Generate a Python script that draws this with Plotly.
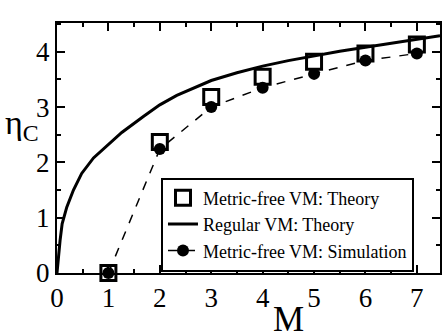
import plotly.graph_objects as go

M = [1, 2, 3, 4, 5, 6, 7]
eta_theory_mf = [0, 2.37, 3.18, 3.55, 3.82, 3.97, 4.13]
eta_sim_mf = [0, 2.24, 3.0, 3.35, 3.6, 3.84, 3.97]

# regular VM theory curve (read point by point)
M_reg = [0, 0.025, 0.06, 0.1, 0.19, 0.32, 0.48, 0.71, 1.0, 1.26, 1.68, 2.0, 2.33, 2.78,
         3.0, 3.5, 4.0, 4.5, 5.0, 5.5, 6.0, 6.5, 7.0, 7.45]
eta_reg = [0, 0.29, 0.59, 0.89, 1.19, 1.50, 1.80, 2.08, 2.33, 2.54, 2.83, 3.04, 3.21, 3.39,
           3.48, 3.62, 3.74, 3.84, 3.93, 4.01, 4.08, 4.15, 4.22, 4.29]

serif = "Liberation Serif"

fig = go.Figure()
fig.add_trace(go.Scatter(x=M_reg, y=eta_reg, mode="lines", name="Regular VM: Theory",
                         line=dict(color="black", width=3), legendrank=2))
fig.add_trace(go.Scatter(x=M, y=eta_sim_mf, mode="markers+lines", name="Metric-free VM: Simulation",
                         line=dict(color="black", width=1.5, dash="dash"),
                         marker=dict(symbol="circle", size=12, color="black"),
                         cliponaxis=False, legendrank=3))
fig.add_trace(go.Scatter(x=M, y=eta_theory_mf, mode="markers", name="Metric-free VM: Theory",
                         marker=dict(symbol="square-open", size=15, color="black", line=dict(width=3)),
                         cliponaxis=False, legendrank=1))

axis_common = dict(showline=True, linecolor="black", linewidth=2, mirror="allticks",
                   ticks="inside", ticklen=8, tickwidth=1.5, tickcolor="black",
                   showgrid=False, zeroline=False, automargin=False,
                   tickfont=dict(family=serif, size=27, color="black"),
                   minor=dict(ticks="inside", ticklen=4, tickwidth=1.5, tickcolor="black", dtick=0.5))

fig.update_xaxes(range=[0, 7.45], dtick=1, ticklabelstandoff=0, **axis_common)
fig.update_yaxes(range=[0, 4.52], dtick=1, **axis_common)

fig.update_layout(
    width=443, height=336,
    margin=dict(l=57, r=3, t=23, b=63),
    plot_bgcolor="white", paper_bgcolor="white",
    font=dict(family=serif, color="black"),
    showlegend=True,
    legend=dict(x=0.2715, y=0.382, xanchor="left", yanchor="top",
                bordercolor="black", borderwidth=2, bgcolor="white",
                font=dict(family=serif, size=18, color="black"),
                traceorder="normal", tracegroupgap=0),
    annotations=[
        dict(text="M", x=(288 - 57) / 383, y=-(319 - 272.7) / 249.7, xref="paper", yref="paper",
             xanchor="center", yanchor="middle",
             showarrow=False, font=dict(family=serif, size=35, color="black")),
        dict(text="η<sub>C</sub>", x=(22 - 57) / 383, y=(272.7 - 125) / 249.7, xref="paper", yref="paper",
             xanchor="center", yanchor="middle",
             showarrow=False, font=dict(family=serif, size=34, color="black")),
    ],
)

fig.write_html("out.html", config={"displayModeBar": False},
               post_script="document.body.style.margin='0';")
